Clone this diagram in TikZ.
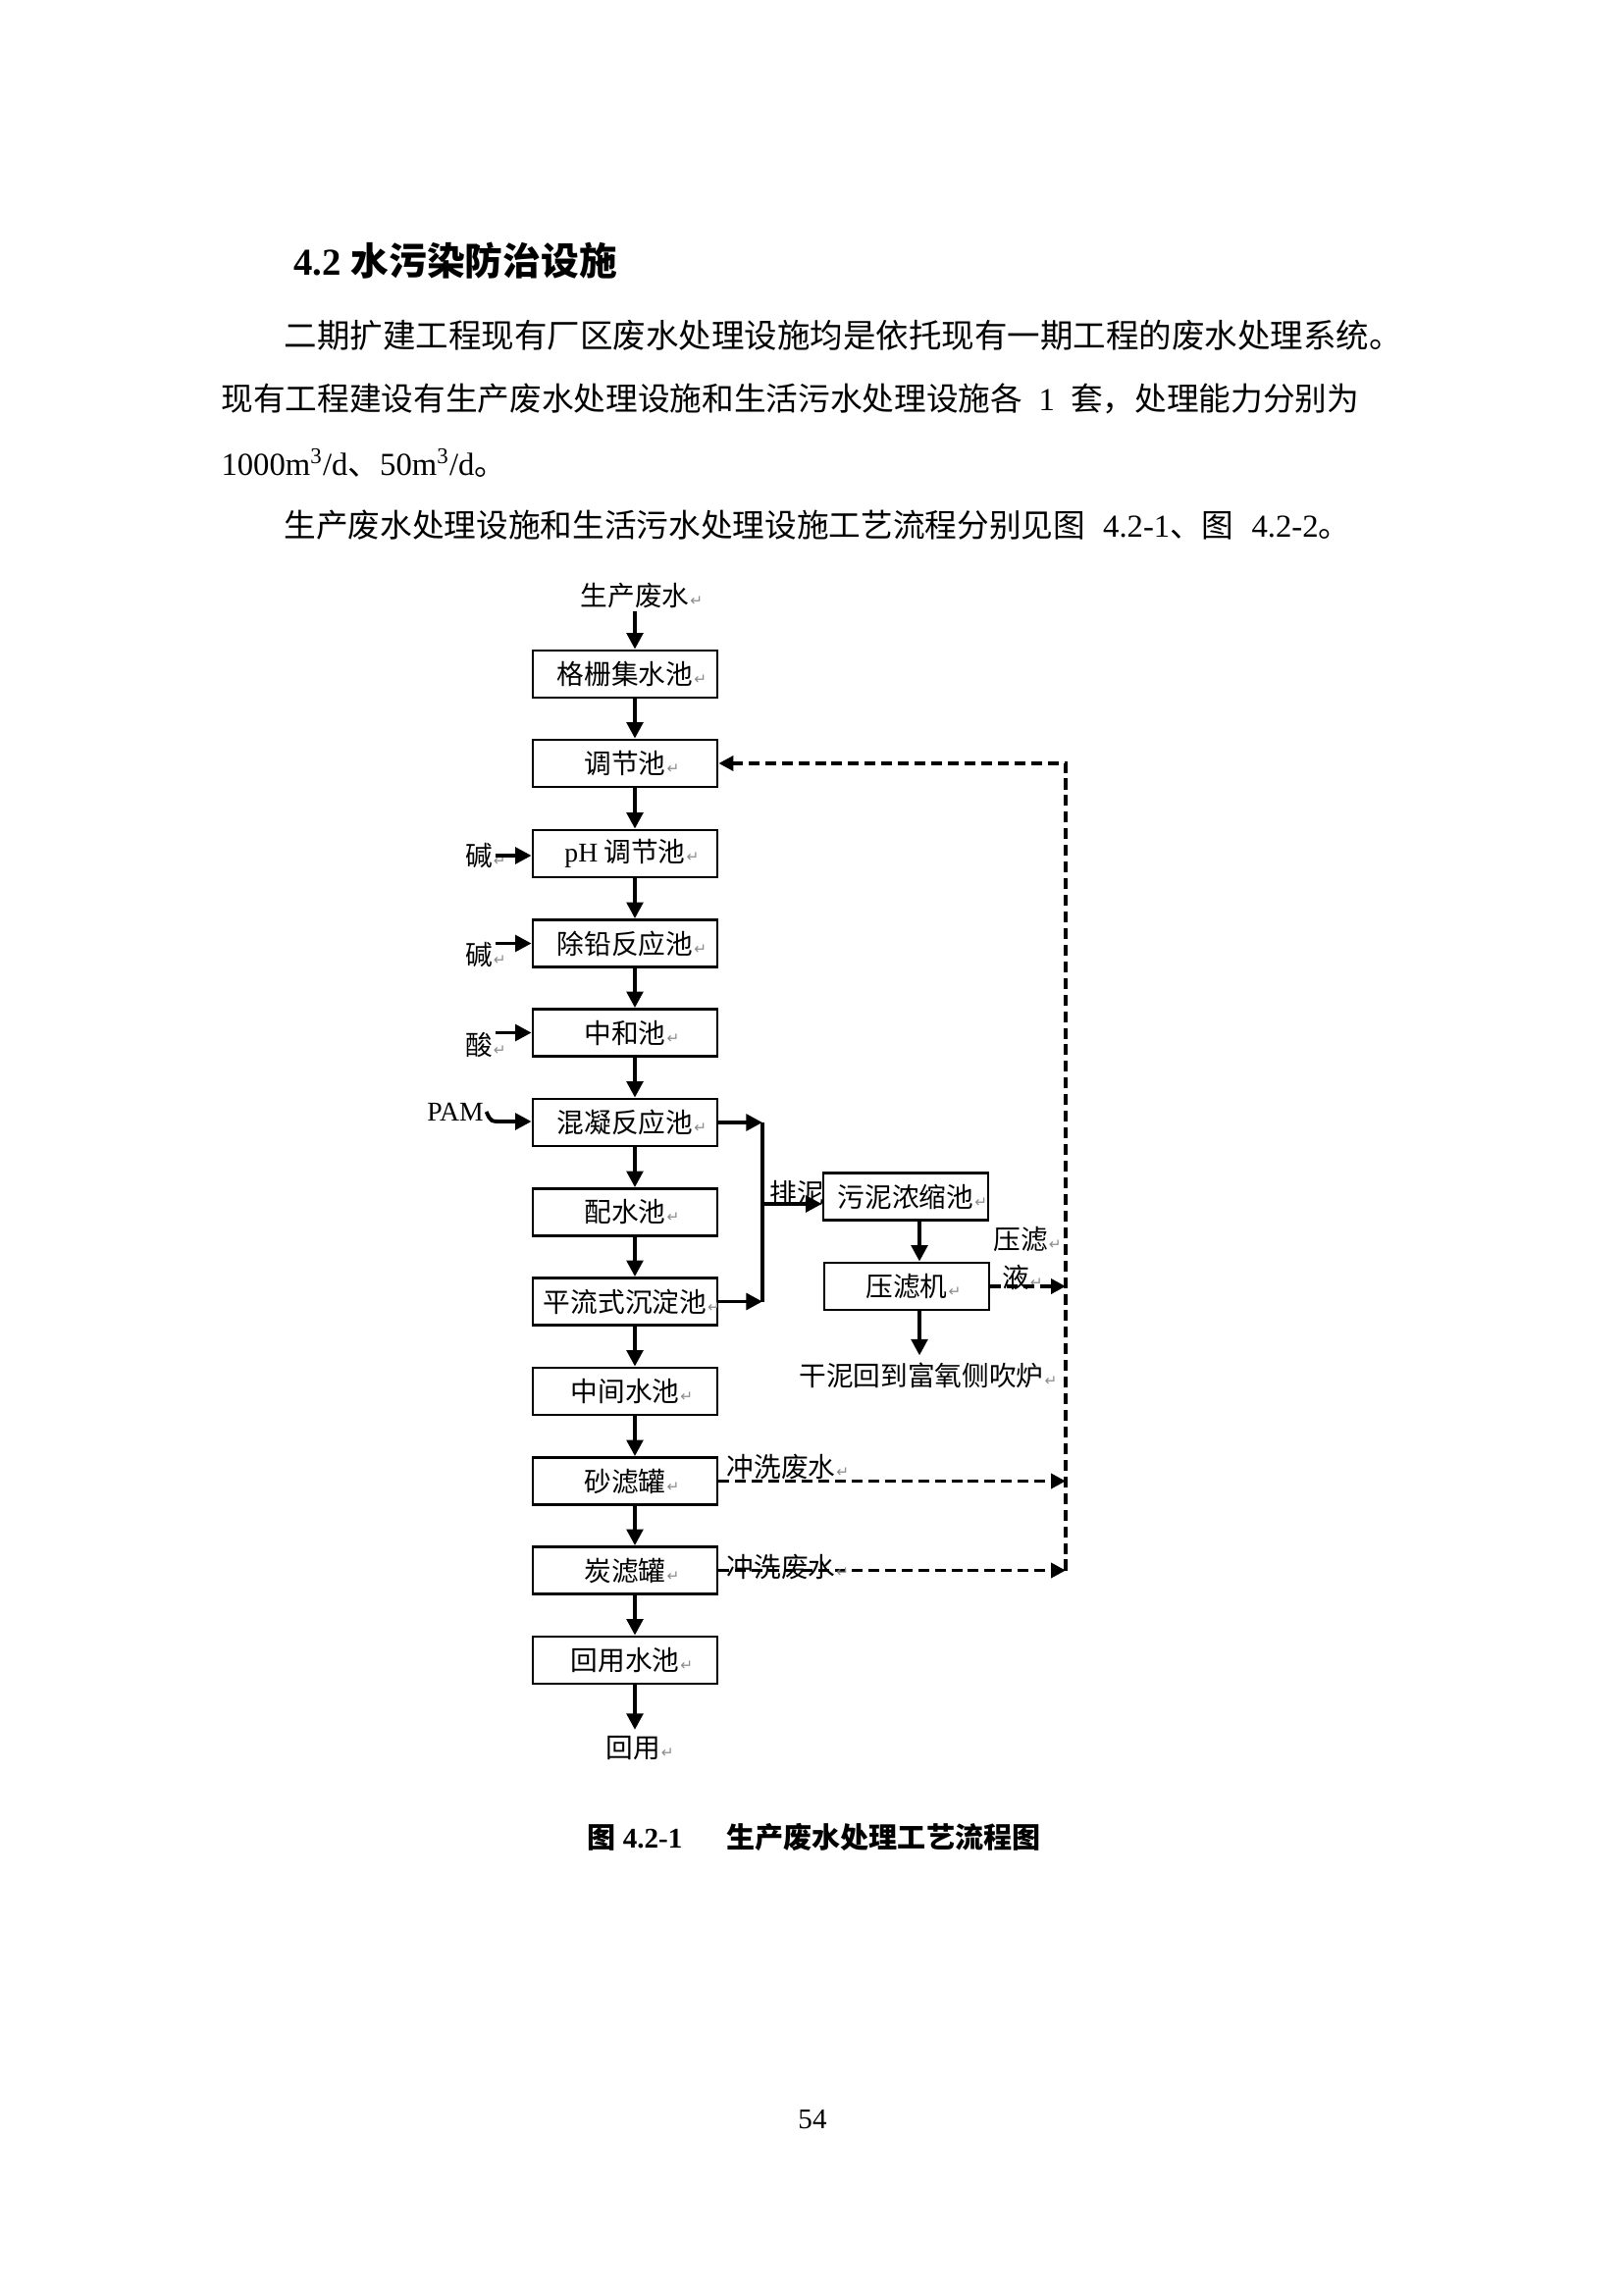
\documentclass[tikz,border=0pt]{standalone}
\usepackage{fontspec}
\setmainfont{Liberation Serif}
\newfontfamily\cjk{Noto Sans CJK SC}
\newfontfamily\dejavu{DejaVu Sans}
\usetikzlibrary{arrows.meta}
\definecolor{markgray}{gray}{0.55}
\newcommand\pxu{0.12696mm}
\newcommand\rmk{\rlap{\kern0.4pt{\dejavu\fontsize{5.5pt}{6pt}\selectfont\color{markgray}↵}}}
\newcommand\flowfont{\cjk\fontsize{10pt}{12pt}\selectfont}
\newcommand\bodyfont{\fontsize{11.8pt}{14pt}\selectfont}
\begin{document}
\begin{tikzpicture}[x=0.12696mm,y=-0.12696mm,
  box/.style={draw, line width=1pt, fill=white, inner sep=0pt,
    minimum width=188*\pxu, minimum height=48*\pxu, font=\flowfont},
  sbox/.style={box, minimum width=168*\pxu},
  lbl/.style={inner sep=0.3mm, font=\flowfont},
  arr/.style={line width=1.4pt, -{Triangle[length=2.1mm,width=2.1mm]}},
  ln/.style={line width=1.4pt},
  darr/.style={line width=1.3pt, dash pattern=on 1.4mm off 0.75mm, -{Triangle[length=1.9mm,width=1.9mm]}},
  txt/.style={anchor=base west, inner sep=0pt}]
\fill[white] (0,0) rectangle (1654,2339);
\useasboundingbox (0,0) rectangle (1654,2339);

% heading and paragraph
\node[txt, font=\fontsize{14pt}{16pt}\selectfont\bfseries] (h) at (299,281) {4.2 {\cjk 水污染防治设施}};
\node[txt, font=\fontsize{12.1pt}{14pt}\selectfont] (p1) at (289,355) {\cjk 二期扩建工程现有厂区废水处理设施均是依托现有一期工程的废水处理系统。};
\node[txt, font=\bodyfont] (p2) at (225,419) {{\cjk 现有工程建设有生产废水处理设施和生活污水处理设施各}\hspace{0.5em}1\hspace{0.5em}{\cjk 套，处理能力分别为}};
\node[txt, font=\bodyfont] (p3) at (225,485) {1000m\textsuperscript{3}/d{\cjk 、}50m\textsuperscript{3}/d{\cjk 。}};
\node[txt, font=\bodyfont] (p4) at (289,548) {{\cjk 生产废水处理设施和生活污水处理设施工艺流程分别见图}\hspace{0.55em}4.2-1{\cjk 、图}\hspace{0.55em}4.2-2{\cjk 。}};

% main column
\coordinate (mx) at (647,0);
\node[lbl] (src) at (647,607) {生产废水\rmk};
\node[box] (b1) at (637,687) {格栅集水池\rmk};
\node[box] (b2) at (637,778) {调节池\rmk};
\node[box] (b3) at (637,870) {{\rmfamily pH} 调节池\rmk};
\node[box] (b4) at (637,961.5) {除铅反应池\rmk};
\node[box] (b5) at (637,1052.5) {中和池\rmk};
\node[box] (b6) at (637,1144) {混凝反应池\rmk};
\node[box] (b7) at (637,1235.5) {配水池\rmk};
\node[box] (b8) at (637,1326.5) {平流式沉淀池\rmk};
\node[box] (b9) at (637,1418) {中间水池\rmk};
\node[box] (b10) at (637,1509.5) {砂滤罐\rmk};
\node[box] (b11) at (637,1600.5) {炭滤罐\rmk};
\node[box] (b12) at (637,1692) {回用水池\rmk};
\node[lbl, inner sep=0.8mm] (use) at (645,1782) {回用\rmk};

\draw[arr] (src.south -| mx) -- (b1.north -| mx);
\foreach \a/\b in {b1/b2,b2/b3,b3/b4,b4/b5,b5/b6,b6/b7,b7/b8,b8/b9,b9/b10,b10/b11,b11/b12}
  \draw[arr] (\a.south -| mx) -- (\b.north -| mx);
\draw[arr] (b12.south -| mx) -- (use.north -| mx);

% chemical inputs
\node[lbl] (k1) at (488,872) {碱\rmk};
\draw[arr] (k1.east) -- (k1.east -| b3.west);
\node[lbl] (k2) at (488,973) {碱\rmk};
\draw[arr] (k2.east |- b4.west) -- (b4.west);
\node[lbl] (ac) at (488,1065) {酸\rmk};
\draw[arr] (ac.east |- b5.west) -- (b5.west);
\node[lbl, font=\rmfamily\fontsize{10pt}{12pt}\selectfont] (pam) at (464,1133) {PAM};
\coordinate (pk) at (512,1143);
\draw[arr] (pam.east) .. controls (500,1143) .. (pk) -- (pk -| b6.west);

% sludge branch
\coordinate (bx) at (777,0);
\draw[arr] (b6.east) -- (b6.east -| bx);
\draw[arr] (b8.east) -- (b8.east -| bx);
\draw[ln] (b6.east -| bx) -- (b8.east -| bx);
\node[lbl] (pn) at (812,1216) {排泥\rmk};
\node[sbox] (sc) at (923,1219.5) {污泥浓缩池\rmk};
\coordinate (pnk) at (777,1227);
\draw[arr] (pnk) -- (pnk -| sc.west);
\node[sbox] (pj) at (924,1311) {压滤机\rmk};
\coordinate (sx) at (937,0);
\draw[arr] (sc.south -| sx) -- (pj.north -| sx);
\node[lbl, inner sep=0.9mm] (dry) at (939,1402) {干泥回到富氧侧吹炉\rmk};
\draw[arr] (pj.south -| sx) -- (dry.north -| sx);
\node[lbl] (yl1) at (1040,1263) {压滤\rmk};
\node[lbl] (yl2) at (1035,1302) {液\rmk};

% dashed returns
\coordinate (rx) at (1086,0);
\draw[darr] (b11.east -| rx) -- (b2.east -| rx) -- (b2.east);
\draw[darr] (pj.east) -- (pj.east -| rx);
\draw[darr] (b10.east) -- (b10.east -| rx);
\draw[darr] (b11.east) -- (b11.east -| rx);
\node[lbl] (w1) at (796,1495) {冲洗废水\rmk};
\node[lbl] (w2) at (796,1597) {冲洗废水\rmk};

% caption and page number
\node[txt, font=\fontsize{10.5pt}{12pt}\selectfont\bfseries] (cap1) at (598,1883) {{\cjk 图} 4.2-1};
\node[txt, font=\fontsize{10.5pt}{12pt}\selectfont\bfseries] (cap2) at (740,1883) {\cjk 生产废水处理工艺流程图};
\node[anchor=base, inner sep=0pt, font=\fontsize{10.5pt}{12pt}\selectfont] (pg) at (828,2169) {54};
\end{tikzpicture}
\end{document}
